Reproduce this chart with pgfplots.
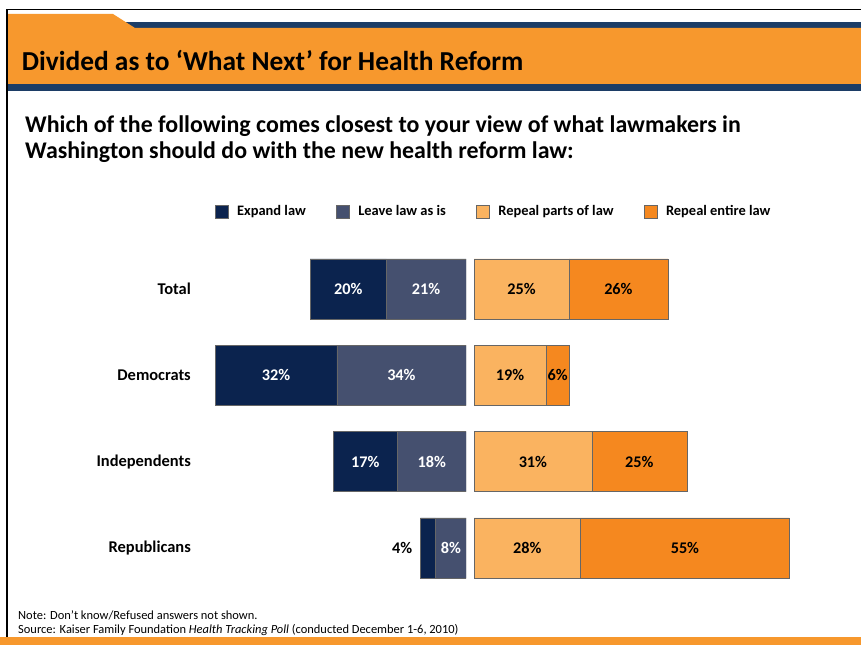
\documentclass[border=0pt]{standalone}
\usepackage{pgfplots}
\pgfplotsset{compat=1.18}
\usepackage{pgfplotstable}
\usepackage{fontspec}
\setmainfont{Carlito}
\definecolor{expandc}{RGB}{11,35,78}
\definecolor{leavec}{RGB}{69,80,111}
\definecolor{partsc}{RGB}{250,179,96}
\definecolor{entirec}{RGB}{245,136,31}
\definecolor{bandorange}{RGB}{247,152,45}
\definecolor{bandnavy}{RGB}{28,61,102}
\pgfplotstableread{
cat expand leave parts entire
0 20 21 25 26
1 32 34 19 6
2 17 18 31 25
3 4 8 28 55
}\data
\pgfplotsset{
  common/.style={scale only axis, height=345.3bp, ymin=-0.5, ymax=3.5, y dir=reverse, bar width=60bp},
  lbl/.style={draw=none, mark=none, nodes near coords={\pgfplotspointmeta\%}, nodes near coords align=center,
    point meta=explicit symbolic,
    every node near coord/.append style={font=\bfseries\fontsize{16.3}{19}\selectfont, inner sep=0pt, text=#1}},
  barsty/.style={fill=#1, draw=black!60, line width=0.5bp},
}
\begin{document}
\begin{tikzpicture}[x=1bp,y=1bp]
\path[use as bounding box, fill=white] (0,0) rectangle (861,645);
% header band
\fill[bandnavy] (120,617) rectangle (861,623);
\fill[bandorange] (7,631) -- (113,631) -- (135,617) -- (861,617) -- (861,561) -- (7,561) -- cycle;
\fill[bandnavy] (7,561) rectangle (861,553.5);
\draw[line width=1.5bp] (861,635.5) -- (7,635.5) -- (7,8);
\fill[bandorange] (0,0) rectangle (861,7.5);
\node[anchor=base west, inner sep=0pt, font=\bfseries\fontsize{27.5}{33}\selectfont] at (21.7,574.5) {Divided as to ‘What Next’ for Health Reform};
\node[anchor=base west, inner sep=0pt, font=\bfseries\fontsize{24}{29}\selectfont] at (25,512) {Which of the following comes closest to your view of what lawmakers in};
\node[anchor=base west, inner sep=0pt, font=\bfseries\fontsize{24}{29}\selectfont] at (25,486) {Washington should do with the new health reform law:};
\node[anchor=base west, inner sep=0pt, font=\fontsize{12.5}{15}\selectfont] at (18,25) {Note: Don’t know/Refused answers not shown.};
\node[anchor=base west, inner sep=0pt, font=\fontsize{12.5}{15}\selectfont] at (18,11.5) {Source: Kaiser Family Foundation \textit{Health Tracking Poll} (conducted December 1-6, 2010)};

% left bars
\begin{axis}[common, at={(466bp,399.2bp)}, anchor=north east, width=266bp, xmin=-70, xmax=0,
  xbar stacked, axis line style={draw=none}, xtick=\empty, ytick={0,1,2,3},
  yticklabels={Total,Democrats,Independents,Republicans},
  yticklabel style={anchor=east, inner sep=0pt, xshift=-9bp, font=\bfseries\fontsize{16.5}{20}\selectfont},
  major tick length=0pt, tick style={draw=none},
  legend columns=4,
  legend image code/.code={\draw[#1, draw=black!60, line width=0.5bp] (0bp,-6.5bp) rectangle (13bp,6.5bp);},
  legend style={at={(0.0549,1.0993)}, anchor=west, draw=none, fill=none, inner sep=0pt, outer sep=0pt,
    nodes={inner sep=0pt}, font=\bfseries\fontsize{14.5}{17}\selectfont,
    /tikz/every odd column/.append style={column sep=9bp},
    /tikz/every even column/.append style={column sep=30bp}},
  legend cell align=left]
\addplot[barsty=leavec, forget plot] table[x expr=-\thisrow{leave}, y=cat]{\data};
\addplot[barsty=expandc, forget plot] table[x expr=-\thisrow{expand}, y=cat]{\data};
\addlegendimage{fill=expandc}\addlegendentry{Expand law}
\addlegendimage{fill=leavec}\addlegendentry{Leave law as is}
\addlegendimage{fill=partsc}\addlegendentry{Repeal parts of law}
\addlegendimage{fill=entirec}\addlegendentry{Repeal entire law}
\end{axis}

% right bars
\begin{axis}[common, at={(474bp,399.2bp)}, anchor=north west, width=342bp, xmin=0, xmax=90,
  xbar stacked, hide axis]
\addplot[barsty=partsc] table[x=parts, y=cat]{\data};
\addplot[barsty=entirec] table[x=entire, y=cat]{\data};
\end{axis}

% left labels
\begin{axis}[common, at={(466bp,399.2bp)}, anchor=north east, width=266bp, xmin=-70, xmax=0, hide axis, clip=false]
\addplot[lbl=white, skip coords between index={3}{4}] table[x expr={-(\thisrow{leave}+\thisrow{expand}/2)}, y=cat, meta=expand]{\data};
\addplot[lbl=white] table[x expr={-\thisrow{leave}/2}, y=cat, meta=leave]{\data};
\addplot[lbl=black, nodes near coords align=east, every node near coord/.append style={xshift=-8bp}, skip coords between index={0}{3}] table[x expr={-(\thisrow{leave}+\thisrow{expand})}, y=cat, meta=expand]{\data};
\end{axis}

% right labels
\begin{axis}[common, at={(474bp,399.2bp)}, anchor=north west, width=342bp, xmin=0, xmax=90, hide axis, clip=false]
\addplot[lbl=black] table[x expr={\thisrow{parts}/2}, y=cat, meta=parts]{\data};
\addplot[lbl=black] table[x expr={\thisrow{parts}+\thisrow{entire}/2}, y=cat, meta=entire]{\data};
\end{axis}
\end{tikzpicture}
\end{document}
